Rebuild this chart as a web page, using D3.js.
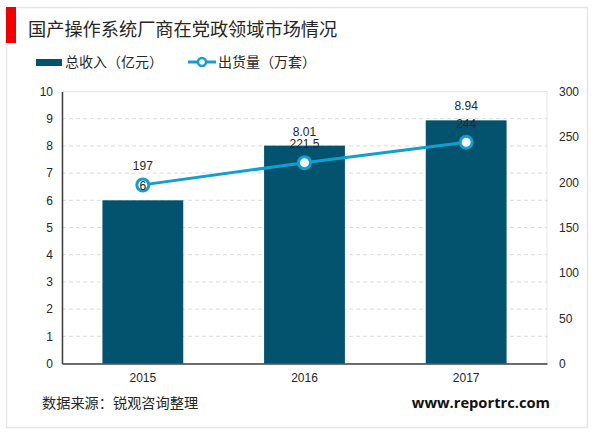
<!DOCTYPE html>
<html>
<head>
<meta charset="utf-8">
<script src="https://cdn.jsdelivr.net/npm/d3@7"></script>
<style>
html, body { margin: 0; padding: 0; background: #fff; }
svg { display: block; }
text { font-family: "Liberation Sans", Arial, sans-serif; fill: #262626; }
.cjk { font-family: "Noto Sans CJK SC", sans-serif; }
</style>
</head>
<body>
<div id="chart"></div>
<script>
var years = ["2015", "2016", "2017"];
var revenue = [6, 8.01, 8.94];
var revenue_labels = ["6", "8.01", "8.94"];
var shipments = [197, 221.5, 244];
var shipment_labels = ["197", "221.5", "244"];
var left_ticks = [0, 1, 2, 3, 4, 5, 6, 7, 8, 9, 10];
var right_ticks = [0, 50, 100, 150, 200, 250, 300];

var title = "国产操作系统厂商在党政领域市场情况";
var bar_name = "总收入（亿元）";
var line_name = "出货量（万套）";
var source = "数据来源：锐观咨询整理";
var site = "www.reportrc.com";

var width = 600, height = 433;
var plot = {left: 62, right: 547, top: 91.5, bottom: 363.5};

var svg = d3.select("#chart").append("svg")
    .attr("width", width)
    .attr("height", height);

// outer frame and title block
svg.append("rect")
    .attr("x", 6.5).attr("y", 7.5)
    .attr("width", 581).attr("height", 420)
    .attr("fill", "#fff")
    .attr("stroke", "#e6e6e6")
    .attr("stroke-width", 1.5);

svg.append("rect")
    .attr("x", 6).attr("y", 7)
    .attr("width", 10).attr("height", 36)
    .attr("fill", "#f00000");

svg.append("text").attr("class", "cjk")
    .attr("x", 28).attr("y", 36)
    .style("font-size", "18.2px")
    .text(title);

var x = d3.scaleBand().domain(years).range([plot.left, plot.right])
    .paddingInner(0.5).paddingOuter(0.25);
var y_left = d3.scaleLinear().domain([0, 10]).range([plot.bottom, plot.top]);
var y_right = d3.scaleLinear().domain([0, 300]).range([plot.bottom, plot.top]);

// plot box
svg.append("rect")
    .attr("x", plot.left).attr("y", plot.top)
    .attr("width", plot.right - plot.left)
    .attr("height", plot.bottom - plot.top)
    .attr("fill", "none")
    .attr("stroke", "#e4e4e4");

// gridlines
svg.append("g").selectAll("line")
    .data(left_ticks.filter(function(d) { return d > 0 && d < 10; }))
    .enter().append("line")
    .attr("x1", plot.left).attr("x2", plot.right)
    .attr("y1", function(d) { return y_left(d); })
    .attr("y2", function(d) { return y_left(d); })
    .attr("stroke", "#dcdcdc")
    .attr("stroke-dasharray", "4,3");

// bars
svg.append("g").selectAll("rect")
    .data(revenue)
    .enter().append("rect")
    .attr("x", function(d, i) { return x(years[i]); })
    .attr("y", function(d) { return y_left(d); })
    .attr("width", x.bandwidth())
    .attr("height", function(d) { return plot.bottom - y_left(d); })
    .attr("fill", "#03536f");

// axes
var axis_left = d3.axisLeft(y_left).tickValues(left_ticks).tickSize(0).tickPadding(9);
var left_g = svg.append("g")
    .attr("transform", "translate(" + plot.left + ",0)")
    .call(axis_left);
left_g.select(".domain").attr("stroke", "#404040").attr("stroke-width", 1.5);

var axis_right = d3.axisRight(y_right).tickValues(right_ticks).tickSize(0).tickPadding(12);
var right_g = svg.append("g")
    .attr("transform", "translate(" + plot.right + ",0)")
    .call(axis_right);
right_g.select(".domain").remove();

var axis_bottom = d3.axisBottom(x).tickSize(0).tickPadding(10);
var bottom_g = svg.append("g")
    .attr("transform", "translate(0," + plot.bottom + ")")
    .call(axis_bottom);
bottom_g.select(".domain").attr("stroke", "#404040").attr("stroke-width", 1.5);

svg.selectAll(".tick text")
    .style("font-family", '"Liberation Sans", Arial, sans-serif')
    .style("font-size", "12px")
    .style("fill", "#262626");

// line and markers
var line = d3.line()
    .x(function(d, i) { return x(years[i]) + x.bandwidth() / 2; })
    .y(function(d) { return y_right(d); });

svg.append("path")
    .datum(shipments)
    .attr("d", line)
    .attr("fill", "none")
    .attr("stroke", "#109fce")
    .attr("stroke-width", 3);

svg.append("g").selectAll("circle")
    .data(shipments)
    .enter().append("circle")
    .attr("cx", function(d, i) { return x(years[i]) + x.bandwidth() / 2; })
    .attr("cy", function(d) { return y_right(d); })
    .attr("r", 6)
    .attr("fill", "#fff")
    .attr("stroke", "#109fce")
    .attr("stroke-width", 3);

// data labels
svg.append("g").selectAll("text")
    .data(revenue)
    .enter().append("text")
    .attr("x", function(d, i) { return x(years[i]) + x.bandwidth() / 2; })
    .attr("y", function(d) { return y_left(d) - 10; })
    .attr("text-anchor", "middle")
    .style("font-size", "12px")
    .text(function(d, i) { return revenue_labels[i]; });

svg.append("g").selectAll("text")
    .data(shipments)
    .enter().append("text")
    .attr("x", function(d, i) { return x(years[i]) + x.bandwidth() / 2; })
    .attr("y", function(d) { return y_right(d) - 14.5; })
    .attr("text-anchor", "middle")
    .style("font-size", "12px")
    .text(function(d, i) { return shipment_labels[i]; });

// legend
var legend_y = 62;
svg.append("rect")
    .attr("x", 36).attr("y", legend_y - 3)
    .attr("width", 26).attr("height", 7)
    .attr("fill", "#03536f");
svg.append("text").attr("class", "cjk")
    .attr("x", 65).attr("y", legend_y + 5)
    .style("font-size", "14px")
    .text(bar_name);

svg.append("line")
    .attr("x1", 188).attr("x2", 216)
    .attr("y1", legend_y).attr("y2", legend_y)
    .attr("stroke", "#109fce")
    .attr("stroke-width", 3);
svg.append("circle")
    .attr("cx", 202).attr("cy", legend_y).attr("r", 4)
    .attr("fill", "#fff")
    .attr("stroke", "#109fce")
    .attr("stroke-width", 2.5);
svg.append("text").attr("class", "cjk")
    .attr("x", 218).attr("y", legend_y + 5)
    .style("font-size", "14px")
    .text(line_name);

// footer
svg.append("text").attr("class", "cjk")
    .attr("x", 42).attr("y", 408)
    .style("font-size", "14.2px")
    .text(source);

svg.append("text")
    .attr("x", 550).attr("y", 408)
    .attr("text-anchor", "end")
    .style("font-family", '"Open Sans", sans-serif')
    .style("font-weight", "bold")
    .style("font-size", "14.7px")
    .style("fill", "#111")
    .text(site);
</script>
</body>
</html>
